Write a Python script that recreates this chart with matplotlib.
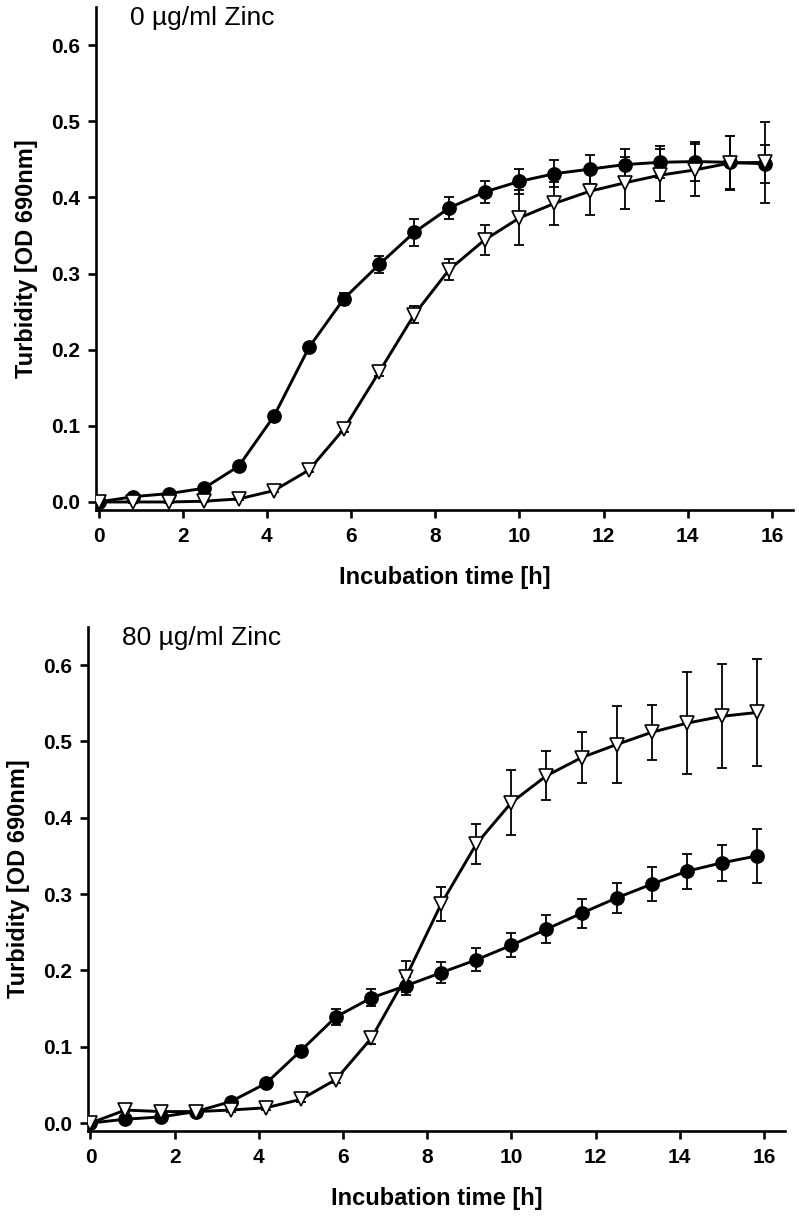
import numpy as np
import matplotlib as mplt
mplt.use('Agg')
import matplotlib.pyplot as plt

mplt.rc('font', family=['Liberation Sans', 'DejaVu Sans'])

# sampling every 50 min
time_h = [0, 0.83, 1.67, 2.5, 3.33, 4.17, 5.0, 5.83, 6.67, 7.5,
          8.33, 9.17, 10.0, 10.83, 11.67, 12.5, 13.33, 14.17, 15.0, 15.83]

# 0 ug/ml zinc
zn0_circ = [0.0, 0.007, 0.011, 0.018, 0.047, 0.113, 0.203, 0.267, 0.312, 0.354,
            0.386, 0.407, 0.421, 0.431, 0.437, 0.443, 0.446, 0.447, 0.446, 0.444]
zn0_circ_err = [0.001, 0.002, 0.002, 0.002, 0.003, 0.004, 0.005, 0.008, 0.011, 0.018,
                0.014, 0.015, 0.016, 0.018, 0.019, 0.020, 0.021, 0.026, 0.035, 0.025]
zn0_tri = [0.0, 0.0, 0.0, 0.001, 0.004, 0.015, 0.042, 0.096, 0.171, 0.246,
           0.305, 0.344, 0.373, 0.392, 0.408, 0.419, 0.429, 0.436, 0.445, 0.446]
zn0_tri_err = [0.001, 0.001, 0.001, 0.001, 0.002, 0.002, 0.003, 0.004, 0.005, 0.011,
               0.014, 0.020, 0.036, 0.028, 0.031, 0.034, 0.034, 0.034, 0.036, 0.053]

# 80 ug/ml zinc
zn80_circ = [0.0, 0.005, 0.008, 0.015, 0.028, 0.052, 0.095, 0.139, 0.164, 0.180,
             0.197, 0.214, 0.233, 0.254, 0.275, 0.295, 0.313, 0.330, 0.341, 0.350]
zn80_circ_err = [0.001, 0.002, 0.002, 0.002, 0.003, 0.004, 0.006, 0.010, 0.011, 0.012,
                 0.014, 0.015, 0.016, 0.018, 0.019, 0.020, 0.022, 0.023, 0.024, 0.035]
zn80_tri = [0.0, 0.017, 0.015, 0.015, 0.017, 0.020, 0.031, 0.057, 0.111, 0.192,
            0.287, 0.366, 0.420, 0.455, 0.479, 0.496, 0.512, 0.524, 0.533, 0.538]
zn80_tri_err = [0.001, 0.002, 0.002, 0.002, 0.002, 0.003, 0.004, 0.005, 0.008, 0.020,
                0.022, 0.026, 0.043, 0.032, 0.034, 0.050, 0.036, 0.067, 0.068, 0.070]

titles = ['0 \u00b5g/ml Zinc', '80 \u00b5g/ml Zinc']
circ = [zn0_circ, zn80_circ]
circ_err = [zn0_circ_err, zn80_circ_err]
tri = [zn0_tri, zn80_tri]
tri_err = [zn0_tri_err, zn80_tri_err]

fig = plt.figure(figsize=(7.99, 12.18), dpi=100)
axpos = [[0.1202, 0.5813, 0.8723, 0.4130],
         [0.1101, 0.0714, 0.8724, 0.4138]]

for ip in range(2):
    ax = fig.add_axes(axpos[ip])
    ax.errorbar(time_h, circ[ip], yerr=circ_err[ip], fmt='none', ecolor='k',
                elinewidth=1.3, capsize=3.4, capthick=1.3, zorder=2)
    ax.errorbar(time_h, tri[ip], yerr=tri_err[ip], fmt='none', ecolor='k',
                elinewidth=1.3, capsize=3.4, capthick=1.3, zorder=2)
    ax.plot(time_h, circ[ip], c='k', lw=2.1, marker='o', ms=9.6,
            mfc='k', mec='k', mew=1.0, zorder=3)
    ax.plot(time_h, tri[ip], c='k', lw=2.1, marker='v', ms=9.8,
            mfc='white', mec='k', mew=1.2, zorder=4)

    ax.set_xlim([-0.06, 16.5])
    ax.set_ylim([-0.0105, 0.65])
    ax.set_xticks(np.arange(0, 17, 2))
    ax.set_yticks(np.arange(0, 0.61, 0.1))
    ax.set_yticklabels(['%.1f' % v for v in np.arange(0, 0.61, 0.1)])
    ax.tick_params(axis='both', direction='out', length=5.5, width=1.9, labelsize=15)
    ax.tick_params(axis='x', pad=7)
    ax.tick_params(axis='y', pad=6)
    for lab in ax.get_xticklabels() + ax.get_yticklabels():
        lab.set_fontweight('bold')
    ax.spines['top'].set_visible(False)
    ax.spines['right'].set_visible(False)
    ax.spines['left'].set_linewidth(1.9)
    ax.spines['bottom'].set_linewidth(1.9)
    ax.set_xlabel('Incubation time [h]', fontsize=17, fontweight='bold', labelpad=14)
    ax.set_ylabel('Turbidity [OD 690nm]', fontsize=17, fontweight='bold', labelpad=9)
    ax.text(0.049, 0.964, titles[ip], transform=ax.transAxes, fontsize=19,
            ha='left', va='baseline')

plt.savefig('out.png', dpi=100)
